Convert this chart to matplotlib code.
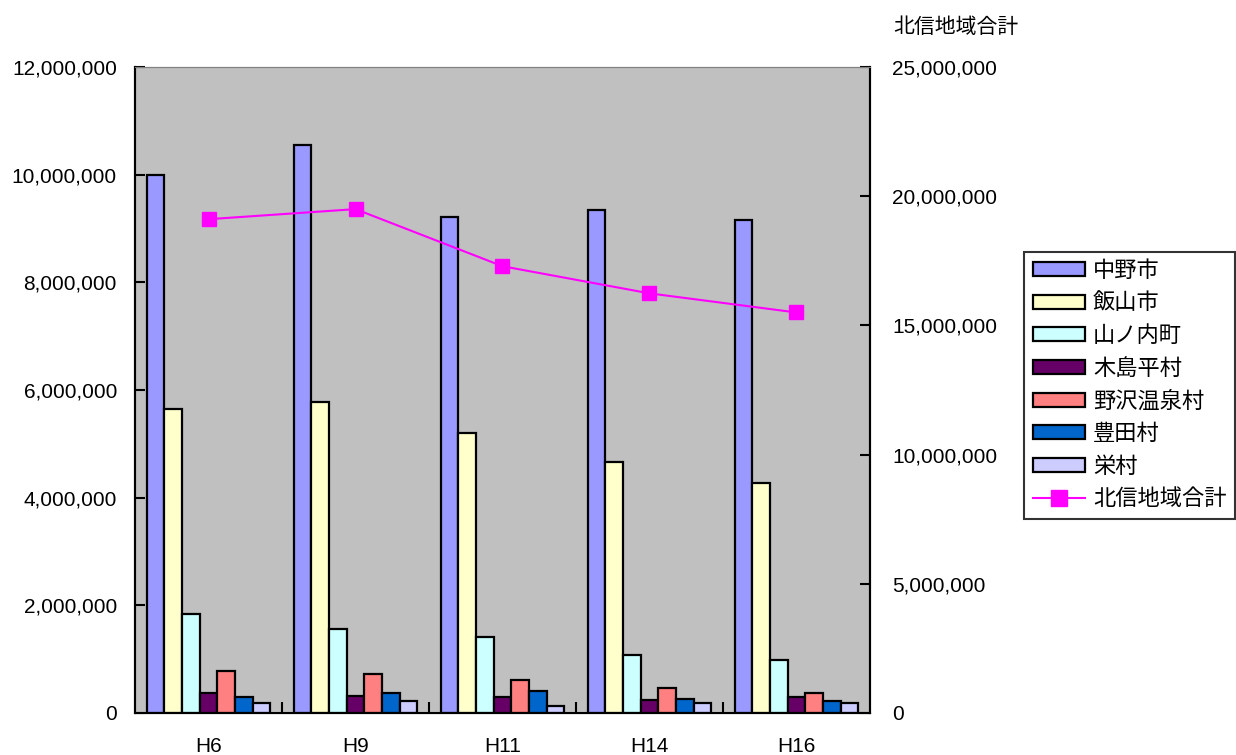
import matplotlib
matplotlib.use("Agg")
import matplotlib.pyplot as plt
from matplotlib.ticker import FuncFormatter
import numpy as np

plt.rcParams['font.family'] = ['Liberation Sans', 'Noto Sans CJK JP', 'DejaVu Sans']

# データ
years = ["H6", "H9", "H11", "H14", "H16"]
towns = ["中野市", "飯山市", "山ノ内町", "木島平村", "野沢温泉村", "豊田村", "栄村"]
nakano = [10000000, 10550000, 9210000, 9340000, 9150000]
iiyama = [5656000, 5770000, 5210000, 4670000, 4280000]
yamanouchi = [1840000, 1557000, 1408000, 1085000, 986000]
kijimadaira = [372000, 320000, 304000, 242000, 292000]
nozawa = [787000, 726000, 614000, 471000, 378000]
toyota = [290000, 378000, 415000, 266000, 229000]
sakae = [190000, 223000, 136000, 180000, 180000]
hokushin_total = [19110000, 19500000, 17290000, 16240000, 15500000]
total_label = "北信地域合計"

series = [nakano, iiyama, yamanouchi, kijimadaira, nozawa, toyota, sakae]
colors = ["#9999FF", "#FFFFCC", "#CCFFFF", "#660066", "#FF8080", "#0066CC", "#CCCCFF"]

fig = plt.figure(figsize=(12.36, 7.55), dpi=100)
ax = fig.add_axes([135/1236, 42/755, 735/1236, 646/755])
ax.set_facecolor("#C0C0C0")

x = np.arange(len(years))
w = 0.12
handles = []
for i, (vals, c, name) in enumerate(zip(series, colors, towns)):
    b = ax.bar(x + (i - 3) * w, vals, width=w, color=c, edgecolor="black",
               linewidth=1.6, label=name, zorder=2)
    handles.append(b)

ax.set_xlim(-0.5, len(years) - 0.5)
ax.set_ylim(0, 12000000)
ax.set_yticks(np.arange(0, 12000001, 2000000))
fmt = FuncFormatter(lambda v, p: f"{int(v):,}")
ax.yaxis.set_major_formatter(fmt)
ax.tick_params(axis="y", direction="in", length=7, width=1.5, pad=13, labelsize=15)

ax.set_xticks(x)
ax.set_xticklabels(years)
ax.tick_params(axis="x", which="major", length=0, pad=17, labelsize=15)
ax.set_xticks(np.arange(0.5, len(years) - 0.5, 1), minor=True)
ax.tick_params(axis="x", which="minor", direction="in", length=8, width=1.5)

for s in ["left", "bottom", "right"]:
    ax.spines[s].set_linewidth(1.5)
    ax.spines[s].set_color("black")
ax.spines["top"].set_color("#808080")

ax2 = ax.twinx()
line, = ax2.plot(x, hokushin_total, color="#FF00FF", marker="s", markersize=10,
                 linewidth=1.5, label=total_label, zorder=3)
ax2.set_ylim(0, 25000000)
ax2.set_yticks(np.arange(0, 25000001, 5000000))
ax2.yaxis.set_major_formatter(fmt)
ax2.tick_params(axis="y", direction="in", length=7, width=1.5, pad=16, labelsize=15)
ax2.spines["right"].set_linewidth(1.5)
ax2.spines["top"].set_color("#808080")
ax2.spines["left"].set_linewidth(1.5)

fig.text(893/1236, 1 - 27/755, total_label, fontsize=15, va="center", ha="left")

leg = fig.legend(handles + [line], towns + [total_label], loc="upper left",
                 bbox_to_anchor=(1024/1236, 1 - 252/755), fontsize=16,
                 frameon=True, fancybox=False, edgecolor="black",
                 handlelength=2.35, handleheight=0.6, handletextpad=0.35,
                 labelspacing=0.52, borderpad=0.4, borderaxespad=0,
                 markerscale=1.2)
leg.get_frame().set_linewidth(1.5)

fig.savefig("out.png", dpi=100)
